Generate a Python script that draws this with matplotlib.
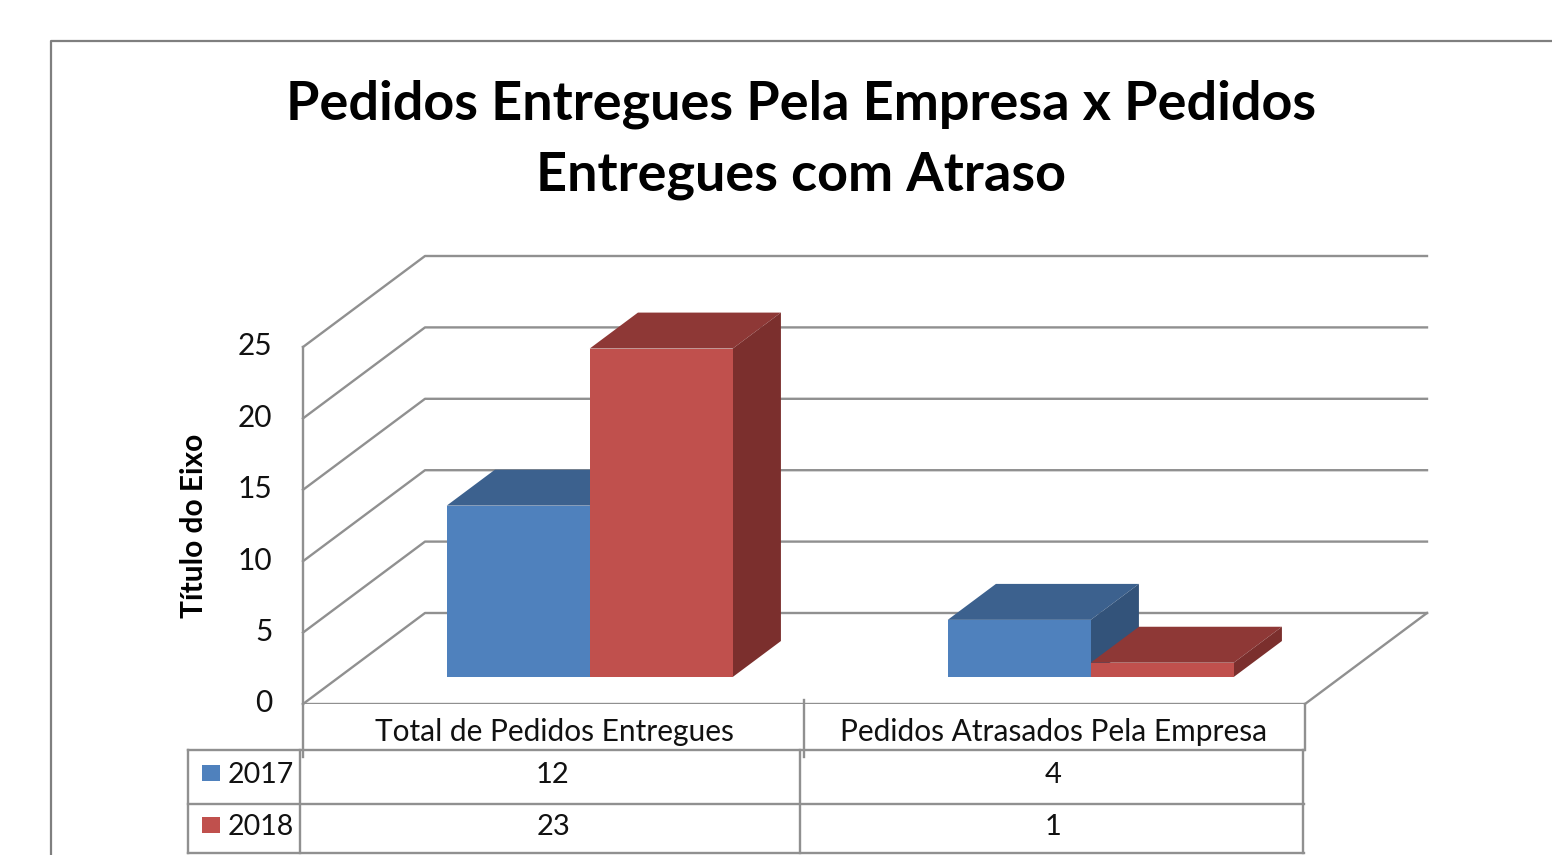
import matplotlib.pyplot as plt
from matplotlib.patches import Polygon, Rectangle
from matplotlib.transforms import ScaledTranslation

plt.rcParams["font.family"] = ["Lato", "DejaVu Sans"]

title = "Pedidos Entregues Pela Empresa x Pedidos\nEntregues com Atraso"
ylabel = "Título do Eixo"
categories = ["Total de Pedidos Entregues", "Pedidos Atrasados Pela Empresa"]
series_names = ["2017", "2018"]
values_2017 = [12, 4]
values_2018 = [23, 1]
yticks = [0, 5, 10, 15, 20, 25]

W, H = 1552, 855
gridColor, textColor = "#909090", "#111111"
frontColors = ["#4f81bd", "#c0504d"]
topColors = ["#3c618e", "#8e3836"]
sideColors = ["#33537a", "#7b2f2d"]

# oblique projection of the 3D box, in data units (categories, values)
depthX, depthY = 122 / 501, 91 / 14.28
barWidth = 143 / 501
barFront = 0.297  # where the bars start, as a share of the floor depth
barDepth = 0.395

fig = plt.figure(figsize=(W / 100, H / 100), dpi=100)

# overlay in pixels for the frame and the data table
bg = fig.add_axes([0, 0, 1, 1])
bg.set_xlim(0, W)
bg.set_ylim(H, 0)
bg.axis("off")
bg.plot([51, 51, W], [H, 41.5, 41.5], color="#7f7f7f", lw=1.6)

ax = fig.add_axes([303 / W, 1 - 704 / H, 1002 / W, 357 / H])
ax.set_xlim(0, 2)
ax.set_ylim(0, 25)
ax.patch.set_visible(False)
for name in ["top", "right", "bottom"]:
    ax.spines[name].set_visible(False)
ax.spines["left"].set_color(gridColor)
ax.spines["left"].set_linewidth(1.7)
ax.set_xticks([])
ax.set_yticks(yticks)
ax.tick_params(axis="y", length=0, pad=22, labelsize=21.5, labelcolor=textColor)
shift = ScaledTranslation(0, 2.2 / 72, fig.dpi_scale_trans)
for lab in ax.get_yticklabels():
    lab.set_transform(lab.get_transform() + shift)

# side wall and back wall gridlines
for t in yticks:
    ax.plot([0, depthX, 2 + depthX], [t, t + depthY, t + depthY],
            color=gridColor, lw=1.7, clip_on=False, zorder=1)
ax.plot([2, 2 + depthX], [0, depthY], color=gridColor, lw=1.7, clip_on=False, zorder=1)
ax.axhline(0, color=gridColor, lw=1.7, zorder=1)


def draw_bar(left, value, idx):
    x0 = left + barFront * depthX
    x1 = x0 + barWidth
    y0 = barFront * depthY
    y1 = y0 + value
    dx, dy = barDepth * depthX, barDepth * depthY
    z = 3 + idx
    ax.add_patch(Polygon([(x0, y1), (x1, y1), (x1 + dx, y1 + dy), (x0 + dx, y1 + dy)],
                         color=topColors[idx], lw=0, clip_on=False, zorder=z))
    ax.add_patch(Polygon([(x1, y0), (x1 + dx, y0 + dy), (x1 + dx, y1 + dy), (x1, y1)],
                         color=sideColors[idx], lw=0, clip_on=False, zorder=z))
    ax.bar(x0, value, width=barWidth, bottom=y0, align="edge",
           color=frontColors[idx], lw=0, clip_on=False, zorder=z)


for i in range(len(categories)):
    center = i + 0.5
    draw_bar(center - barWidth, values_2017[i], 0)
    draw_bar(center, values_2018[i], 1)

fig.text(801 / W, 1 - 140 / H, title, ha="center", va="center", fontsize=38.9,
         fontweight="bold", color="black", linespacing=1.53)
fig.text(194 / W, 1 - 526 / H, ylabel, rotation=90, ha="center", va="center",
         fontsize=21.5, fontweight="bold", color="black")

# data table
tableKw = dict(color=gridColor, lw=1.7, zorder=2)
bg.plot([303, 303], [704, 757], **tableKw)
bg.plot([804, 804], [700, 757], **tableKw)
bg.plot([1305, 1305], [704, 750], **tableKw)
bg.plot([188, 1304], [750, 750], **tableKw)
bg.plot([188, 1304], [804, 804], **tableKw)
bg.plot([188, 1304], [853, 853], **tableKw)
for x in [188, 300, 800, 1303]:
    bg.plot([x, x], [750, 853], **tableKw)

cellKw = dict(ha="center", va="center", color=textColor)
bg.text(554, 732, categories[0], fontsize=21.5, **cellKw)
bg.text(1054, 732, categories[1], fontsize=21.5, **cellKw)
rowY = [775, 827]
for j, vals in enumerate([values_2017, values_2018]):
    bg.add_patch(Rectangle((202, rowY[j] - 10), 18, 16, color=frontColors[j], lw=0))
    bg.text(261, rowY[j], series_names[j], fontsize=20.5, **cellKw)
    bg.text(553, rowY[j], str(vals[0]), fontsize=21, **cellKw)
    bg.text(1053, rowY[j], str(vals[1]), fontsize=21, **cellKw)

plt.savefig("out.png", dpi=100)
